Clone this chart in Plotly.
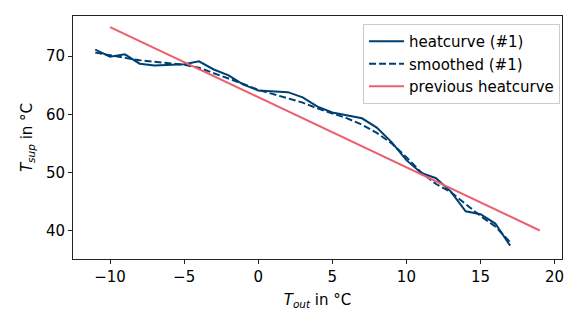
import plotly.graph_objects as go

# outdoor temperature (°C)
t_out = list(range(-11, 18))

# measured heat curve (#1)
heatcurve = [71.1, 69.9, 70.3, 68.7, 68.4, 68.5, 68.6, 69.1, 67.7, 66.7, 65.1, 64.1,
             63.9, 63.8, 62.9, 61.3, 60.3, 59.8, 59.3, 57.7, 55.2, 52.1, 49.9, 49.0,
             46.7, 43.3, 42.8, 41.2, 37.4]

# smoothed heat curve (#1)
smoothed = [70.6, 70.1, 69.7, 69.3, 69.0, 68.8, 68.5, 68.0, 67.1, 66.2, 65.2, 64.2,
            63.5, 62.7, 62.0, 61.0, 60.2, 59.3, 58.2, 56.8, 55.0, 52.6, 50.0, 48.0,
            46.6, 44.6, 42.5, 40.7, 38.0]

# previous heat curve endpoints
prev_x = [-10, 19]
prev_y = [75, 40]

BLUE = "#003f72"
PINK = "#ec5f6f"
FONT = "DejaVu Sans"

fig = go.Figure()
fig.add_trace(go.Scatter(x=t_out, y=heatcurve, mode="lines", name="heatcurve (#1)",
                         line=dict(color=BLUE, width=2)))
fig.add_trace(go.Scatter(x=t_out, y=smoothed, mode="lines", name="smoothed (#1)",
                         line=dict(color=BLUE, width=2, dash="7px,3px")))
fig.add_trace(go.Scatter(x=prev_x, y=prev_y, mode="lines", name="previous heatcurve",
                         line=dict(color=PINK, width=2)))

axis_style = dict(
    showgrid=False, zeroline=False, showline=True, mirror=True, automargin=False,
    linecolor="#222", linewidth=1, ticks="outside", ticklen=4, tickwidth=1,
    tickcolor="#222", tickfont=dict(size=15, color="black"),
)

# the page body adds an 8px offset, so margins are shifted to compensate
fig.update_layout(
    width=582, height=327,
    margin=dict(l=65, r=28, t=8, b=76),
    paper_bgcolor="white", plot_bgcolor="white",
    font=dict(family=FONT, size=15, color="black"),
    showlegend=True,
    legend=dict(
        x=0.996, y=0.967, xanchor="right", yanchor="top",
        bordercolor="#cccccc", borderwidth=1, bgcolor="rgba(255,255,255,0.8)",
        font=dict(size=15), tracegroupgap=0, itemwidth=35,
    ),
)
fig.update_xaxes(range=[-12.5, 20.5], tickvals=[-10, -5, 0, 5, 10, 15, 20],
                 ticktext=["\u221210", "\u22125", "0", "5", "10", "15", "20"],
                 title=dict(text="<i>T</i><sub><i>out</i></sub> in °C", standoff=9,
                            font=dict(size=15)),
                 **axis_style)
fig.update_yaxes(range=[35.1, 76.9], tickvals=[40, 50, 60, 70],
                 title=dict(text="<i>T</i><sub><i>sup</i></sub> in °C", standoff=9,
                            font=dict(size=15)),
                 **axis_style)

fig.write_html("out.html")
